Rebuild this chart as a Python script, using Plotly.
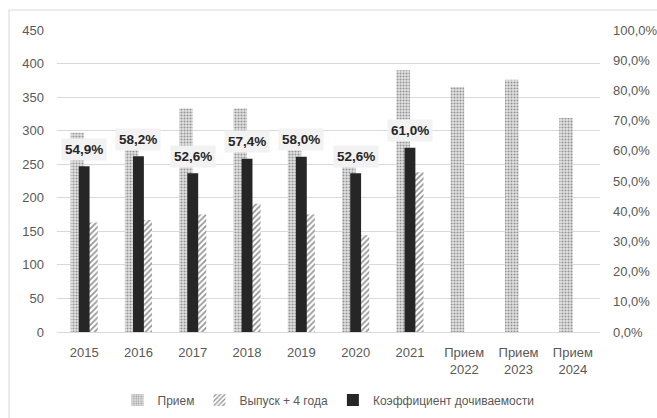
import plotly.graph_objects as go

# Categories on the x axis
categories = ["2015", "2016", "2017", "2018", "2019", "2020", "2021",
              "Прием<br>2022", "Прием<br>2023", "Прием<br>2024"]

# Enrolment (left axis)
priem = [297, 287, 333, 333, 302, 274, 390, 365, 376, 319]
# Graduates four years later (left axis)
vypusk = [163, 167, 175, 191, 175, 144, 238, None, None, None]
# Completion ratio (right axis)
koef = [0.549, 0.582, 0.526, 0.574, 0.580, 0.526, 0.610, None, None, None]

W, H = 657, 418
ML, MR, MT, MB = 57, 57, 30, 86

FONT = "Liberation Sans"
GREY_TXT = "#595959"
GRID = "#d9d9d9"

pos = list(range(len(categories)))

fig = go.Figure()

fig.add_trace(go.Bar(
    name="Прием", x=pos, y=priem,
    offset=-0.25, width=0.25,
    marker=dict(color="#ffffff", line=dict(width=0),
                pattern=dict(shape=".", fgcolor="#454545", bgcolor="#e4e4e4",
                             size=3, solidity=0.4)),
    yaxis="y",
))

fig.add_trace(go.Bar(
    name="Выпуск + 4 года", x=pos, y=vypusk,
    offset=0.0, width=0.25,
    marker=dict(color="#ffffff", line=dict(width=0),
                pattern=dict(shape="/", fgcolor="#262626", bgcolor="#ffffff",
                             size=4, solidity=0.4)),
    yaxis="y",
))

fig.add_trace(go.Bar(
    name="Коэффициент дочиваемости", x=pos, y=koef,
    offset=-0.1, width=0.2,
    marker=dict(color="#262626", line=dict(width=0)),
    yaxis="y2",
))

# Value labels above the completion-ratio bars
for p, v in zip(pos, koef):
    if v is None:
        continue
    fig.add_annotation(
        x=p, y=v, xref="x", yref="y2",
        text="<b>" + f"{v * 100:.1f}%".replace(".", ",") + "</b>",
        showarrow=False, yanchor="middle", yshift=17,
        font=dict(family=FONT, size=13.5, color="#262626"),
        bgcolor="#f2f2f2", borderpad=3,
    )

# Chart-area frame (left and top edges)
pw = W - ML - MR
ph = H - MT - MB
x_left = (9 - ML) / pw
x_right = (W - ML) / pw
y_top = (H - MB - 10) / ph
y_bot = (H - MB - H) / ph
fig.add_shape(type="line", xref="paper", yref="paper",
              x0=x_left, x1=x_left, y0=y_bot, y1=y_top,
              line=dict(color=GRID, width=1))
fig.add_shape(type="line", xref="paper", yref="paper",
              x0=x_left, x1=x_right, y0=y_top, y1=y_top,
              line=dict(color=GRID, width=1))

fig.update_layout(
    width=W, height=H,
    margin=dict(l=ML, r=MR, t=MT, b=MB, autoexpand=False),
    paper_bgcolor="white", plot_bgcolor="white",
    barmode="overlay",
    separators=", ",
    font=dict(family=FONT, size=13, color=GREY_TXT),
    showlegend=True,
    legend=dict(orientation="h", x=0.5, xanchor="center",
                y=(H - MB - 400) / ph, yanchor="middle",
                font=dict(family=FONT, size=12, color=GREY_TXT),
                itemwidth=30, traceorder="normal"),
    xaxis=dict(range=[-0.5, len(categories) - 0.5], tickvals=pos,
               ticktext=categories, showgrid=False, showline=True,
               linecolor=GRID, zeroline=False, ticks="", automargin=False,
               ticklabelstandoff=8,
               tickfont=dict(size=13, color=GREY_TXT)),
    yaxis=dict(range=[0, 450], dtick=50, showgrid=True, gridcolor=GRID,
               zeroline=False, showline=False, ticks="", automargin=False,
               ticklabelstandoff=12, tickfont=dict(size=13, color=GREY_TXT)),
    yaxis2=dict(range=[0, 1], dtick=0.1, tickformat=".1%", overlaying="y",
                side="right", showgrid=False, zeroline=False, showline=False,
                ticks="", ticklabelstandoff=12, automargin=False,
                tickfont=dict(size=13, color=GREY_TXT)),
)

fig.write_html("out.html")
